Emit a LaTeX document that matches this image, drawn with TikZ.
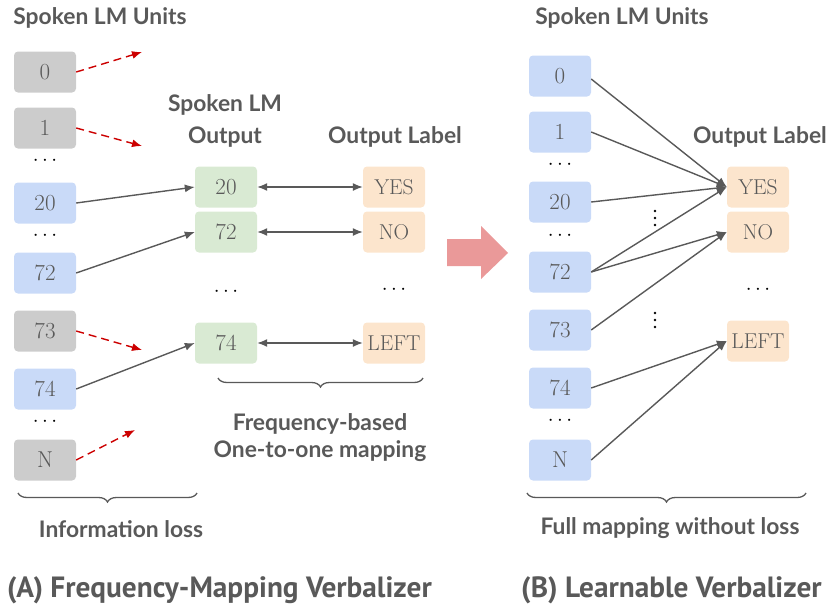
\documentclass[tikz,border=0pt]{standalone}
\usepackage{fontspec}
\usetikzlibrary{arrows.meta,decorations.pathreplacing}
\newfontfamily\hdr{Lato}
\newfontfamily\capfont{PT Sans}
\definecolor{txt}{HTML}{595959}
\definecolor{grayb}{HTML}{CCCCCC}
\definecolor{blueb}{HTML}{C9DAF8}
\definecolor{greenb}{HTML}{D9EAD3}
\definecolor{orangeb}{HTML}{FCE5CD}
\definecolor{redd}{HTML}{CC0000}
\definecolor{pinka}{HTML}{EA9999}
\tikzset{
  box/.style={rounded corners=4pt, minimum width=62pt, minimum height=41pt, inner sep=0pt,
    text=txt, font=\fontsize{23}{23}\selectfont},
  gbox/.style={box, fill=grayb},
  bbox/.style={box, fill=blueb},
  grbox/.style={box, fill=greenb},
  obox/.style={box, fill=orangeb, font=\fontsize{21.5}{21.5}\selectfont},
  head/.style={text=txt, font=\hdr\bfseries\fontsize{22.8}{22.8}\selectfont, inner sep=0pt},
  captxt/.style={text=txt, font=\capfont\bfseries\fontsize{29.3}{29.3}\selectfont, inner sep=0pt},
  hdots/.style={font=\fontsize{22}{22}\selectfont, inner sep=0pt},
  vdot/.style={circle, fill=black, inner sep=0pt, minimum size=2.6pt},
  conn/.style={draw=txt, line width=1.4pt, -{Latex[length=10pt,width=8pt]}},
  dconn/.style={draw=txt, line width=1.4pt, {Latex[length=10pt,width=8pt]}-{Latex[length=10pt,width=8pt]}},
  rconn/.style={draw=redd, line width=1.4pt, dash pattern=on 8pt off 5pt, -{Latex[length=10pt,width=8pt]}},
  brc/.style={draw=txt, line width=1.3pt, decorate, decoration={brace, mirror, amplitude=9pt}},
}
\begin{document}
\begin{tikzpicture}[x=1pt, y=-1pt]
\useasboundingbox (0,0) rectangle (830,608);

% ---------- Left panel ----------
\node[head] (tL) at (100,18) {Spoken LM Units};
\node[gbox] (a0) at (45,72) {0};
\node[gbox] (a1) at (45,128) {1};
\node[hdots] (ad1) at (45,161) {$\cdots$};
\node[bbox] (a20) at (45,203) {20};
\node[hdots] (ad2) at (45,236) {$\cdots$};
\node[bbox] (a72) at (45,273) {72};
\node[gbox] (a73) at (45,331) {73};
\node[bbox] (a74) at (45,389) {74};
\node[hdots] (ad3) at (45,422) {$\cdots$};
\node[gbox] (aN) at (45,460) {N};

\coordinate (r0) at (142,52);
\coordinate (r1) at (142,146);
\coordinate (r73) at (142,350);
\coordinate (rN) at (135,430);
\draw[rconn] (a0.east) -- (r0);
\draw[rconn] (a1.east) -- (r1);
\draw[rconn] (a73.east) -- (r73);
\draw[rconn] (aN.east) -- (rN);

\node[head] (tO1) at (225,105) {Spoken LM};
\node[head] (tO2) at (225,137) {Output};
\node[head] (tOL) at (395,137) {Output Label};

\node[grbox] (g20) at (226,187) {20};
\node[grbox] (g72) at (226,232) {72};
\node[hdots] (gd) at (226,292) {$\cdots$};
\node[grbox] (g74) at (226,343) {74};

\node[obox] (oY) at (394,187) {YES};
\node[obox] (oN) at (394,232) {NO};
\node[hdots] (od) at (394,290) {$\cdots$};
\node[obox] (oL) at (394,343) {LEFT};

\draw[conn] (a20.east) -- (g20.west);
\draw[conn] (a72.east) -- (g72.west);
\draw[conn] (a74.east) -- (g74.west);
\draw[dconn] (g20.east) -- (oY.west);
\draw[dconn] (g72.east) -- (oN.west);
\draw[dconn] (g74.east) -- (oL.west);

\coordinate (bl1) at (18,493);
\coordinate (bl2) at (197,493);
\draw[brc] (bl1) -- (bl2);
\node[head] (il) at (121,529) {Information loss};

\coordinate (bm1) at (218,378);
\coordinate (bm2) at (423,378);
\draw[brc] (bm1) -- (bm2);
\node[head] (fb1) at (320,424) {Frequency-based};
\node[head] (fb2) at (320,451) {One-to-one mapping};

% ---------- Big arrow ----------
\fill[pinka] (447,239) -- (481,239) -- (481,226) -- (508,253) -- (481,279) -- (481,266) -- (447,266) -- cycle;

% ---------- Right panel ----------
\node[head] (tR) at (622,18) {Spoken LM Units};
\node[bbox] (b0) at (560,76) {0};
\node[bbox] (b1) at (560,132) {1};
\node[hdots] (bd1) at (560,165) {$\cdots$};
\node[bbox] (b20) at (560,202) {20};
\node[hdots] (bd2) at (560,236) {$\cdots$};
\node[bbox] (b72) at (560,272) {72};
\node[bbox] (b73) at (560,330) {73};
\node[bbox] (b74) at (560,388) {74};
\node[hdots] (bd3) at (560,421) {$\cdots$};
\node[bbox] (bN) at (560,460) {N};

\node[head] (tRL) at (760,137) {Output Label};
\node[obox] (pY) at (758,187) {YES};
\node[obox] (pN) at (758,232) {NO};
\node[hdots] (pd) at (758,290) {$\cdots$};
\node[obox] (pL) at (758,341) {LEFT};

% vertical ellipses
\foreach \yy [count=\i] in {211,218,225,313,320,327}
  \node[vdot] (vd\i) at (655,\yy) {};

\draw[conn] ([yshift=-3pt]b0.east) -- (pY.west);
\draw[conn] (b1.east) -- (pY.west);
\draw[conn] (b20.east) -- (pY.west);
\draw[conn] (b72.east) -- (pY.west);
\draw[conn] (b72.east) -- (pN.west);
\draw[conn] (b73.east) -- (pN.west);
\draw[conn] (b74.east) -- (pL.west);
\draw[conn] (bN.east) -- (pL.west);

\coordinate (br1) at (527,493);
\coordinate (br2) at (806,493);
\draw[brc] (br1) -- (br2);
\node[head] (fm) at (670,528) {Full mapping without loss};

% ---------- Captions ----------
\node[captxt, anchor=west] (cA) at (7,590) {(A) Frequency-Mapping Verbalizer};
\node[captxt, anchor=west] (cB) at (521,590) {(B) Learnable Verbalizer};
\end{tikzpicture}
\end{document}
